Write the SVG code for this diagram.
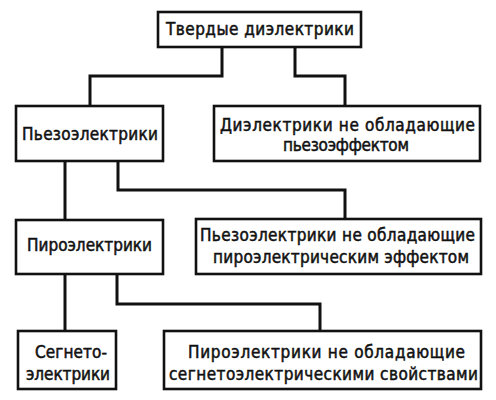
<svg xmlns="http://www.w3.org/2000/svg" width="496" height="400" viewBox="0 0 496 400">
<style>
.box{fill:#fff;stroke:#111;stroke-width:2.6}
.con{fill:none;stroke:#111;stroke-width:3;stroke-linejoin:miter}
text{font-family:"DejaVu Sans Condensed","Liberation Sans Narrow","Liberation Sans",sans-serif;font-size:17px;font-weight:normal;fill:#111;stroke:#111;stroke-width:0.5}
</style>
<rect width="496" height="400" fill="#fff"/>
<g id="connectors">
<polyline class="con" points="222,47 222,76 90,76 90,106"/>
<polyline class="con" points="295,47 295,76 345,76 345,106"/>
<polyline class="con" points="65,161 65,220"/>
<polyline class="con" points="118,161 118,190 345,190 345,219"/>
<polyline class="con" points="65,274 65,331"/>
<polyline class="con" points="117,274 117,304 320,304 320,331"/>
</g>
<g id="n-root">
<rect class="box" x="158" y="12" width="203" height="35"/>
<text x="166" y="35" textLength="188" lengthAdjust="spacing">Твердые диэлектрики</text>
</g>
<g id="n-piezo">
<rect class="box" x="16" y="106" width="147" height="55"/>
<text x="22" y="140" textLength="136" lengthAdjust="spacing">Пьезоэлектрики</text>
</g>
<g id="n-nonpiezo">
<rect class="box" x="214" y="106" width="266" height="55"/>
<text x="220" y="131" textLength="255" lengthAdjust="spacing">Диэлектрики не обладающие</text>
<text x="283" y="151" textLength="126" lengthAdjust="spacing">пьезоэффектом</text>
</g>
<g id="n-pyro">
<rect class="box" x="16" y="220" width="147" height="54"/>
<text x="27" y="251" textLength="125" lengthAdjust="spacing">Пироэлектрики</text>
</g>
<g id="n-nonpyro">
<rect class="box" x="196" y="219" width="285" height="55"/>
<text x="200" y="241" textLength="275" lengthAdjust="spacing">Пьезоэлектрики не обладающие</text>
<text x="213" y="263" textLength="256" lengthAdjust="spacing">пироэлектрическим эффектом</text>
</g>
<g id="n-ferro">
<rect class="box" x="18" y="331" width="98" height="58"/>
<text x="35" y="358" textLength="72" lengthAdjust="spacing">Сегнето-</text>
<text x="26" y="380" textLength="84" lengthAdjust="spacing">электрики</text>
</g>
<g id="n-nonferro">
<rect class="box" x="164" y="331" width="317" height="58"/>
<text x="188" y="358" textLength="277" lengthAdjust="spacing">Пироэлектрики не обладающие</text>
<text x="169" y="380" textLength="309" lengthAdjust="spacing">сегнетоэлектрическими свойствами</text>
</g>
</svg>
